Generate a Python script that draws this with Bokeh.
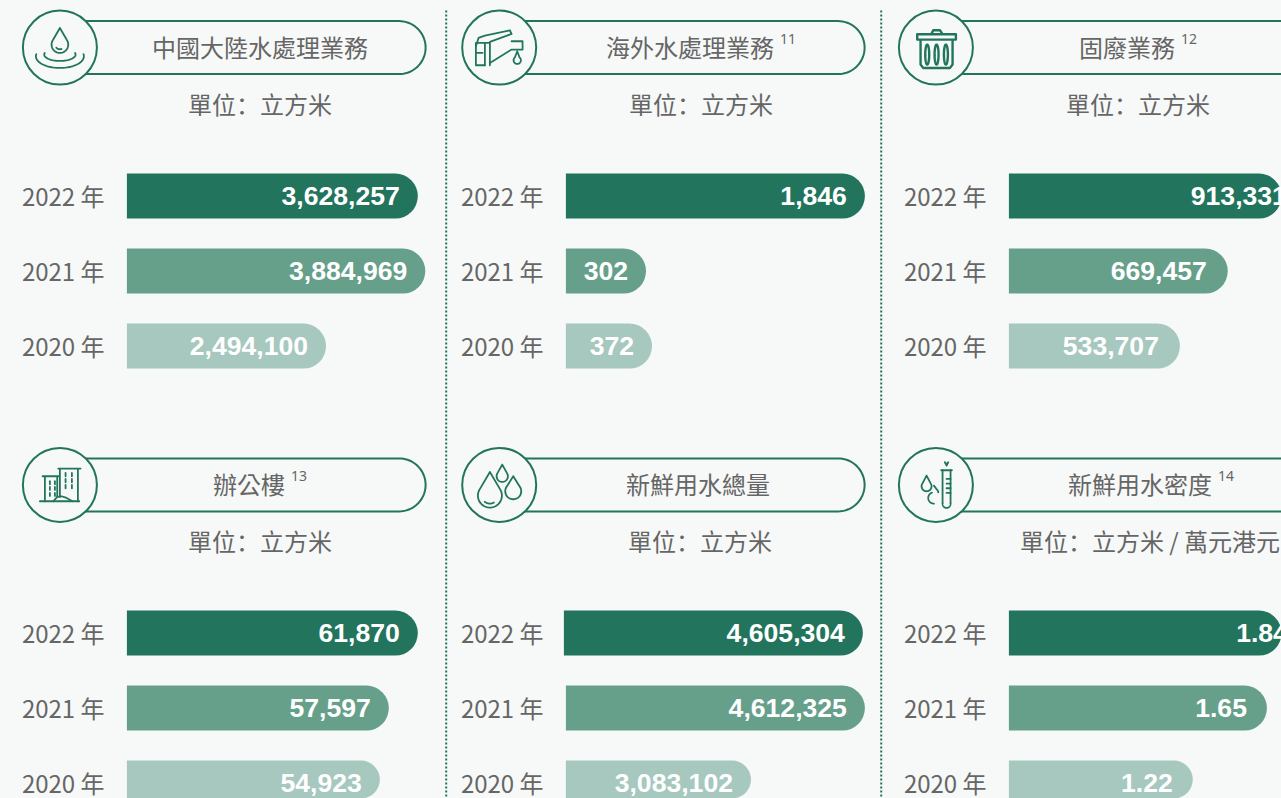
import numpy as np
from bokeh.plotting import figure
from bokeh.embed import file_html
from bokeh.resources import INLINE
from bokeh.core.properties import value
from bokeh.models import Range1d, GlobalInlineStyleSheet

# ---- data
years = [2022, 2021, 2020]
year_labels = ["2022 年", "2021 年", "2020 年"]
titles = ["中國大陸水處理業務", "海外水處理業務", "固廢業務", "辦公樓", "新鮮用水總量", "新鮮用水密度"]
notes = ["", "11", "12", "13", "", "14"]
units = ["單位：立方米", "單位：立方米", "單位：立方米", "單位：立方米", "單位：立方米", "單位：立方米 / 萬元港元"]
mainland = [3628257, 3884969, 2494100]
overseas = [1846, 302, 372]
solid_waste = [913331, 669457, 533707]
office = [61870, 57597, 54923]
fresh_total = [4605304, 4612325, 3083102]
fresh_intensity = [1.84, 1.65, 1.22]
# The drawn bars are not proportional to the printed numbers in the source;
# these are the bar lengths, in % of the longest bar.
mainland_len = [97.3, 99.8, 66.6]
overseas_len = [100.0, 26.8, 28.8]
solid_waste_len = [100.0, 73.2, 57.2]
office_len = [97.3, 87.6, 84.6]
fresh_total_len = [100.0, 100.0, 61.9]
fresh_intensity_len = [100.0, 86.3, 61.5]

# ---- style / layout
BG = "#F7F9F8"
GREEN = "#22755C"
ROW_COLORS = ["#22755C", "#66A08B", "#A6C8BE"]
TXT = "#666666"
CJK = "Noto Sans CJK TC"
CJK_UNIT = "Noto Sans CJK SC"
W, H = 1281, 798
DX, DY = 0.6, 0.9   # global sub-pixel shift of the whole drawing
FULL = 299.0
ROW_GAP = 75.0
BAR_H = 45.0

p = figure(width=W, height=H, output_backend="svg", toolbar_location=None,
           x_range=Range1d(DX, W + DX), y_range=Range1d(H + DY, DY),
           x_axis_location=None, y_axis_location=None, min_border=0,
           background_fill_color=BG, border_fill_color=BG, outline_line_color=None)
p.grid.visible = False
p.stylesheets = [GlobalInlineStyleSheet(css=f"html,body{{background:{BG};margin:0;overflow:hidden}}")]

# separators
for x in (445.7, 880.7):
    p.line([x + DX, x + DX], [11, 800], line_color=GREEN, line_width=2, line_dash="2 2")


def pill(right, top, bottom, left, rad):
    a = np.linspace(-np.pi / 2, np.pi / 2, 40)
    xs = np.r_[left, right - rad + rad * np.cos(a), left]
    ys = np.r_[top, (top + bottom) / 2 + rad * np.sin(a), bottom]
    return xs, ys


def drop(tipx, tipy, cx, cy, r, a0=-35, a1=215, close=True):
    """teardrop; angles in degrees, 0 = right, clockwise on the screen"""
    t = np.radians(np.linspace(a0, a1, 40))
    xs = cx + r * np.cos(t)
    ys = cy + r * np.sin(t)
    if close:
        xs = np.r_[tipx, xs, tipx]
        ys = np.r_[tipy, ys, tipy]
    return xs, ys


def ellipse(cx, cy, rx, ry, a0=0, a1=360):
    t = np.radians(np.linspace(a0, a1, 40))
    return cx + rx * np.cos(t), cy + ry * np.sin(t)


def icon_water():
    return [drop(180, 85, 180, 135, 25), ellipse(180, 135, 14, 14, 70, 140),
            ellipse(180, 165, 47, 19, -15, 195), ellipse(180, 170, 72, 35, -10, 190)]


def icon_tap():
    return [([135, 108, 108, 150, 150], [197, 197, 130, 130, 197]),
            ([108, 116, 135, 210, 215, 150], [140, 115, 108, 92, 103, 127]),
            ([135, 135], [130, 197]), ([108, 128], [160, 160]),
            ([150, 215, 248, 248, 215], [190, 150, 150, 125, 125]),
            drop(232, 155, 232, 182, 11, -50, 230)]


def icon_bin():
    return [([112, 228, 228, 112, 112], [104, 104, 120, 120, 104]),
            ([155, 160, 180, 187], [102, 92, 92, 102]),
            ([122, 122, 130, 210, 218, 218], [122, 195, 205, 205, 195, 122]),
            ellipse(142, 165, 6, 30), ellipse(170, 165, 6, 30), ellipse(198, 165, 6, 30)]


def icon_office():
    out = [([120, 238], [185, 185]), ([128, 176], [110, 110]), ([135, 135], [112, 185]),
           ([172, 172], [112, 170]), ([175, 242], [87, 87]), ([180, 180], [88, 172]),
           ([234, 234], [88, 185]), ([160, 172, 185, 200, 218], [185, 172, 170, 175, 185])]
    for x in (150, 165):
        for y in (125, 142, 160):
            out.append(([x, x], [y, y + 9]))
    for x in (197, 216):
        for y in (100, 118, 136):
            out.append(([x, x], [y, y + 10]))
    return out


def icon_drops():
    return [drop(150, 97, 150, 168, 36, -30, 210), drop(187, 75, 187, 110, 17, -30, 210),
            drop(220, 110, 220, 155, 24, -30, 210), ellipse(150, 168, 24, 24, 60, 130)]


def icon_tube():
    out = [drop(140, 108, 140, 140, 15, -35, 215),
           drop(0, 0, 162, 175, 17, 90, 250, close=False),
           ([162, 175, 175], [138, 155, 158]),
           ([184, 216], [92, 92]), ([188, 188], [92, 190]), ([212, 212], [92, 190]),
           ellipse(200, 192, 12, 13, 0, 180),
           ([195, 200, 205, 200, 195], [68, 78, 68, 74, 68])]
    for y in (118, 132, 146, 160):
        out.append(([200, 212], [y, y]))
    return out


def draw_icon(shapes, ox, oy, **kw):
    """Icon shapes were read in the 3x crops that start at (ox, oy)."""
    xs = [ox + np.asarray(s[0], float) / 3 for s in shapes]
    ys = [oy + np.asarray(s[1], float) / 3 for s in shapes]
    p.multi_line(xs, ys, line_color=GREEN, line_join="round", line_cap="round", **kw)


series = [mainland, overseas, solid_waste, office, fresh_total, fresh_intensity]
lengths = [mainland_len, overseas_len, solid_waste_len, office_len, fresh_total_len, fresh_intensity_len]
icons = [icon_water, icon_tap, icon_bin, icon_office, icon_drops, icon_tube]
# layout: bar origin, year label x, icon centre, pill right, title centre, unit centre
col_x0 = [127, 566, 1009]
col_yr = [22, 461, 904]
col_cx = [60, 499.3, 936]
col_pr = [425.7, 864.7, 1500]
col_ox = [0, 440, 880]
title_left = [152, 606, 1079, 213, 626, 1068]
unit_left = [188, 629, 1066, 188, 628, 1020]
row_y0 = [196.5, 633.5]
row_cy = [48, 485.3]
row_oy = [0, 440]
value_pad = [18, 18, 21, 18, 18, 20]

for i in range(6):
    c, r = i % 3, i // 3
    xn, yn = f"x{i}", f"y{i}"
    start = -(col_x0[c] - DX) / FULL * 100
    p.extra_x_ranges[xn] = Range1d(start, start + W / FULL * 100)
    ytop = years[0] + (row_y0[r] - DY) / ROW_GAP
    p.extra_y_ranges[yn] = Range1d(ytop - H / ROW_GAP, ytop)

    # pill + badge
    cy = row_cy[r]
    px_, py_ = pill(col_pr[c], cy - 26.5, cy + 26.5, col_cx[c], 26.5)
    p.line(px_, py_, line_color=GREEN, line_width=2)
    p.scatter([col_cx[c]], [cy], size=74, marker="circle", fill_color=BG, line_color=GREEN, line_width=2)
    draw_icon(icons[i](), col_ox[c], row_oy[r], line_width=1.8 if i != 2 else 2.4)

    # titles
    base = dict(text_color=TXT, text_font_size="24px", text_baseline="middle", text_align="left")
    p.text([title_left[i]], [cy - 1], text=[titles[i]], text_font=value(CJK), **base)
    if notes[i]:
        tx = title_left[i] + 24 * len(titles[i]) + 6
        p.text([tx], [cy - 9], text=[notes[i]], text_font=value("Noto Sans"), text_color=TXT,
               text_font_size="14px", text_baseline="middle", text_align="left")
    p.text([unit_left[i]], [cy + 55.5], text=[units[i]], text_font=value(CJK_UNIT), **base)

    # bars
    lefts = [-0.67 if (i == 4 and k == 0) else 0 for k in range(3)]
    rights = [lengths[i][k] + lefts[k] for k in range(3)]
    rad = 23
    p.hbar(y=years, left=lefts, right=rights, height=BAR_H / ROW_GAP, fill_color=ROW_COLORS,
           line_color=None, border_radius=(0, rad, rad, 0), x_range_name=xn, y_range_name=yn)
    labels = [f"{v:,}" if isinstance(v, int) else f"{v:.2f}" for v in series[i]]
    p.text(x=rights, y=years, text=labels, x_offset=-value_pad[i], y_offset=0, x_range_name=xn, y_range_name=yn,
           text_font=value("Liberation Sans"), text_font_style="bold", text_font_size="26.6px",
           text_color="white", text_align="right", text_baseline="middle")
    p.text(x=[0, 0, 0], y=years, text=year_labels, x_offset=col_yr[c] - col_x0[c], y_offset=-1,
           x_range_name=xn, y_range_name=yn, text_font=value(CJK), text_font_size="24px",
           text_color=TXT, text_align="left", text_baseline="middle")

open("out.html", "w").write(file_html(p, INLINE))
